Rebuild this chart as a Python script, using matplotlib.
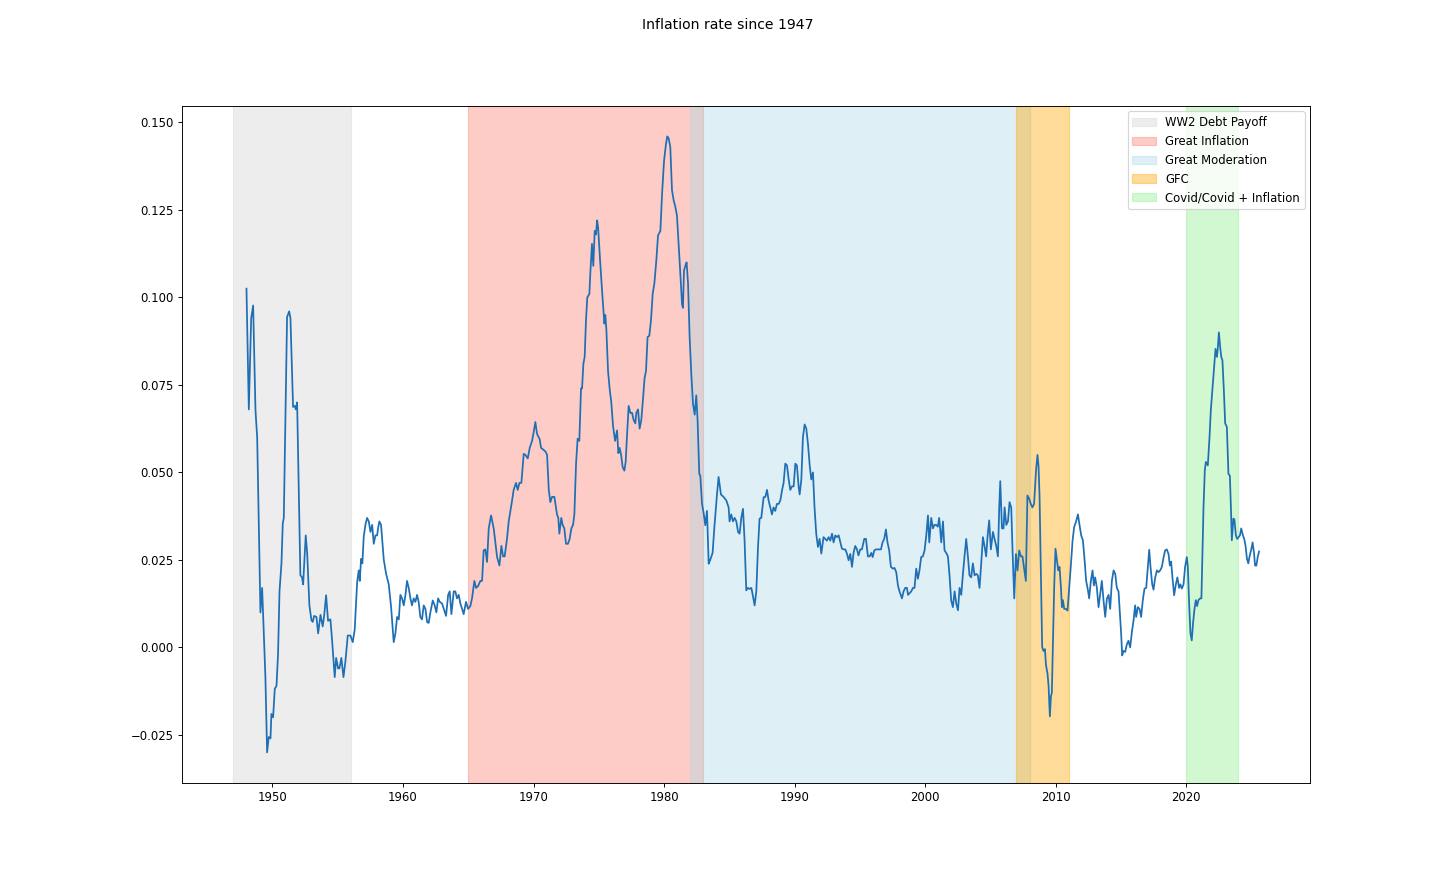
import matplotlib
matplotlib.use("Agg")
import matplotlib.pyplot as plt

# 📝 annual inflation rate (year-over-year)
years = [
    1948.01, 1948.19, 1948.37, 1948.52, 1948.70, 1948.83, 1949.08, 1949.21, 1949.46, 1949.59,
    1949.72, 1949.85, 1949.92, 1950.05, 1950.18, 1950.31, 1950.43, 1950.54, 1950.69, 1950.79,
    1950.87, 1951.00, 1951.12, 1951.28, 1951.38, 1951.58, 1951.71, 1951.79, 1951.89, 1952.14,
    1952.27, 1952.35, 1952.55, 1952.66, 1952.83, 1952.99, 1953.09, 1953.19, 1953.37, 1953.50,
    1953.68, 1953.85, 1953.96, 1954.11, 1954.26, 1954.44, 1954.57, 1954.77, 1954.88, 1955.03,
    1955.13, 1955.28, 1955.44, 1955.59, 1955.77, 1955.97, 1956.15, 1956.30, 1956.49, 1956.61,
    1956.69, 1956.79, 1956.89, 1956.99, 1957.12, 1957.25, 1957.38, 1957.51, 1957.64, 1957.76,
    1957.89, 1958.02, 1958.09, 1958.19, 1958.32, 1958.53, 1958.71, 1958.91, 1959.09, 1959.29,
    1959.42, 1959.55, 1959.68, 1959.80, 1959.93, 1960.06, 1960.19, 1960.31, 1960.44, 1960.57,
    1960.69, 1960.82, 1960.95, 1961.08, 1961.20, 1961.33, 1961.46, 1961.59, 1961.72, 1961.85,
    1961.97, 1962.10, 1962.28, 1962.43, 1962.56, 1962.69, 1962.82, 1963.00, 1963.13, 1963.30,
    1963.46, 1963.58, 1963.71, 1963.89, 1964.01, 1964.14, 1964.27, 1964.40, 1964.53, 1964.65,
    1964.83, 1964.99, 1965.16, 1965.29, 1965.47, 1965.60, 1965.75, 1965.93, 1966.06, 1966.18,
    1966.31, 1966.44, 1966.57, 1966.75, 1966.95, 1967.08, 1967.21, 1967.39, 1967.54, 1967.67,
    1967.79, 1967.97, 1968.10, 1968.23, 1968.36, 1968.48, 1968.66, 1968.79, 1968.92, 1969.07,
    1969.25, 1969.38, 1969.56, 1969.71, 1969.89, 1969.99, 1970.14, 1970.27, 1970.47, 1970.58,
    1970.91, 1971.04, 1971.17, 1971.29, 1971.42, 1971.60, 1971.80, 1971.90, 1971.98, 1972.13,
    1972.23, 1972.36, 1972.49, 1972.64, 1972.77, 1972.90, 1973.03, 1973.13, 1973.26, 1973.38,
    1973.51, 1973.64, 1973.72, 1973.82, 1973.92, 1974.02, 1974.12, 1974.28, 1974.35, 1974.48,
    1974.58, 1974.69, 1974.79, 1974.87, 1974.95, 1975.10, 1975.25, 1975.43, 1975.50, 1975.58,
    1975.71, 1975.83, 1975.96, 1976.09, 1976.25, 1976.40, 1976.50, 1976.60, 1976.71, 1976.83,
    1976.96, 1977.06, 1977.17, 1977.29, 1977.42, 1977.55, 1977.67, 1977.80, 1977.88, 1978.01,
    1978.13, 1978.26, 1978.39, 1978.51, 1978.62, 1978.74, 1978.87, 1979.00, 1979.13, 1979.26,
    1979.41, 1979.54, 1979.72, 1979.85, 1980.00, 1980.15, 1980.25, 1980.35, 1980.48, 1980.61,
    1980.74, 1980.86, 1980.99, 1981.12, 1981.25, 1981.38, 1981.45, 1981.53, 1981.63, 1981.73,
    1981.84, 1981.96, 1982.09, 1982.22, 1982.35, 1982.47, 1982.57, 1982.70, 1982.78, 1982.91,
    1983.03, 1983.16, 1983.29, 1983.42, 1983.54, 1983.72, 1983.85, 1984.06, 1984.18, 1984.36,
    1984.56, 1984.77, 1984.95, 1985.02, 1985.15, 1985.28, 1985.41, 1985.54, 1985.67, 1985.79,
    1985.92, 1986.05, 1986.17, 1986.30, 1986.43, 1986.56, 1986.69, 1986.82, 1986.94, 1987.07,
    1987.20, 1987.32, 1987.45, 1987.63, 1987.76, 1987.89, 1988.01, 1988.14, 1988.27, 1988.39,
    1988.52, 1988.65, 1988.78, 1988.91, 1989.04, 1989.16, 1989.29, 1989.42, 1989.55, 1989.67,
    1989.80, 1989.93, 1990.06, 1990.18, 1990.31, 1990.39, 1990.52, 1990.64, 1990.77, 1990.90,
    1991.03, 1991.16, 1991.28, 1991.41, 1991.53, 1991.66, 1991.79, 1991.92, 1992.05, 1992.22,
    1992.35, 1992.48, 1992.61, 1992.74, 1992.87, 1992.99, 1993.12, 1993.25, 1993.38, 1993.51,
    1993.63, 1993.76, 1993.89, 1994.02, 1994.14, 1994.27, 1994.40, 1994.52, 1994.65, 1994.78,
    1994.90, 1995.03, 1995.16, 1995.34, 1995.47, 1995.62, 1995.75, 1995.88, 1995.98, 1996.11,
    1996.24, 1996.37, 1996.49, 1996.62, 1996.74, 1996.87, 1997.00, 1997.12, 1997.25, 1997.38,
    1997.54, 1997.66, 1997.79, 1997.92, 1998.04, 1998.23, 1998.35, 1998.48, 1998.61, 1998.69,
    1998.81, 1998.94, 1999.07, 1999.19, 1999.32, 1999.45, 1999.57, 1999.70, 1999.83, 1999.96,
    2000.09, 2000.22, 2000.32, 2000.47, 2000.60, 2000.72, 2000.85, 2000.98, 2001.08, 2001.24,
    2001.37, 2001.49, 2001.62, 2001.75, 2001.87, 2002.00, 2002.13, 2002.26, 2002.39, 2002.52,
    2002.64, 2002.77, 2002.90, 2003.02, 2003.15, 2003.28, 2003.40, 2003.53, 2003.66, 2003.79,
    2003.92, 2004.04, 2004.17, 2004.30, 2004.43, 2004.55, 2004.68, 2004.78, 2004.91, 2005.04,
    2005.20, 2005.32, 2005.45, 2005.58, 2005.68, 2005.76, 2005.89, 2006.01, 2006.09, 2006.22,
    2006.35, 2006.47, 2006.60, 2006.70, 2006.83, 2006.96, 2007.08, 2007.21, 2007.34, 2007.46,
    2007.59, 2007.72, 2007.84, 2007.97, 2008.10, 2008.22, 2008.35, 2008.50, 2008.61, 2008.69,
    2008.77, 2008.87, 2008.97, 2009.07, 2009.18, 2009.26, 2009.38, 2009.46, 2009.56, 2009.64,
    2009.71, 2009.79, 2009.89, 2009.99, 2010.10, 2010.20, 2010.30, 2010.41, 2010.48, 2010.56,
    2010.66, 2010.79, 2010.91, 2011.04, 2011.17, 2011.30, 2011.42, 2011.57, 2011.71, 2011.83,
    2011.96, 2012.09, 2012.21, 2012.34, 2012.47, 2012.57, 2012.70, 2012.83, 2012.93, 2013.03,
    2013.16, 2013.29, 2013.41, 2013.54, 2013.67, 2013.80, 2013.93, 2014.06, 2014.18, 2014.31,
    2014.44, 2014.57, 2014.69, 2014.82, 2014.94, 2015.02, 2015.10, 2015.20, 2015.33, 2015.46,
    2015.58, 2015.71, 2015.84, 2015.97, 2016.09, 2016.17, 2016.30, 2016.43, 2016.55, 2016.68,
    2016.81, 2016.94, 2017.07, 2017.17, 2017.27, 2017.40, 2017.50, 2017.63, 2017.76, 2017.88,
    2018.01, 2018.14, 2018.26, 2018.39, 2018.52, 2018.65, 2018.75, 2018.85, 2018.95, 2019.08,
    2019.21, 2019.33, 2019.46, 2019.56, 2019.67, 2019.80, 2019.92, 2020.05, 2020.13, 2020.23,
    2020.33, 2020.43, 2020.53, 2020.64, 2020.74, 2020.84, 2020.94, 2021.07, 2021.17, 2021.25,
    2021.33, 2021.43, 2021.51, 2021.66, 2021.79, 2021.89, 2022.02, 2022.15, 2022.25, 2022.36,
    2022.43, 2022.51, 2022.61, 2022.69, 2022.78, 2022.89, 2022.99, 2023.12, 2023.24, 2023.35,
    2023.43, 2023.50, 2023.62, 2023.70, 2023.81, 2023.91, 2024.01, 2024.12, 2024.22, 2024.35,
    2024.45, 2024.55, 2024.66, 2024.76, 2024.86, 2024.99, 2025.09, 2025.20, 2025.28, 2025.38,
    2025.49, 2025.59,
]

inflation = [
    0.1025, 0.0680, 0.0940, 0.0977, 0.0677, 0.0600, 0.0100, 0.0170, -0.0085, -0.0300,
    -0.0256, -0.0260, -0.0190, -0.0200, -0.0118, -0.0110, -0.0018, 0.0160, 0.0240, 0.0354,
    0.0370, 0.0677, 0.0944, 0.0960, 0.0940, 0.0687, 0.0690, 0.0680, 0.0700, 0.0206,
    0.0200, 0.0180, 0.0320, 0.0270, 0.0120, 0.0077, 0.0073, 0.0090, 0.0087, 0.0040,
    0.0093, 0.0060, 0.0090, 0.0149, 0.0076, 0.0080, 0.0020, -0.0085, -0.0030, -0.0060,
    -0.0060, -0.0030, -0.0085, -0.0040, 0.0034, 0.0034, 0.0015, 0.0050, 0.0187, 0.0220,
    0.0190, 0.0253, 0.0240, 0.0315, 0.0350, 0.0370, 0.0360, 0.0330, 0.0350, 0.0296,
    0.0320, 0.0320, 0.0340, 0.0360, 0.0350, 0.0250, 0.0210, 0.0180, 0.0115, 0.0015,
    0.0040, 0.0087, 0.0080, 0.0150, 0.0140, 0.0120, 0.0150, 0.0190, 0.0170, 0.0140,
    0.0120, 0.0140, 0.0130, 0.0150, 0.0130, 0.0087, 0.0080, 0.0120, 0.0110, 0.0072,
    0.0070, 0.0100, 0.0134, 0.0120, 0.0100, 0.0140, 0.0130, 0.0125, 0.0110, 0.0090,
    0.0150, 0.0160, 0.0095, 0.0160, 0.0160, 0.0140, 0.0150, 0.0125, 0.0110, 0.0095,
    0.0130, 0.0110, 0.0118, 0.0140, 0.0190, 0.0170, 0.0175, 0.0190, 0.0190, 0.0277,
    0.0280, 0.0244, 0.0340, 0.0377, 0.0340, 0.0300, 0.0258, 0.0234, 0.0290, 0.0260,
    0.0260, 0.0310, 0.0360, 0.0390, 0.0420, 0.0450, 0.0470, 0.0450, 0.0470, 0.0470,
    0.0553, 0.0550, 0.0540, 0.0570, 0.0590, 0.0610, 0.0644, 0.0610, 0.0595, 0.0570,
    0.0560, 0.0550, 0.0450, 0.0415, 0.0430, 0.0430, 0.0380, 0.0370, 0.0325, 0.0370,
    0.0350, 0.0340, 0.0296, 0.0296, 0.0310, 0.0340, 0.0350, 0.0380, 0.0525, 0.0596,
    0.0590, 0.0740, 0.0740, 0.0810, 0.0830, 0.0934, 0.1000, 0.1010, 0.1067, 0.1153,
    0.1090, 0.1190, 0.1180, 0.1220, 0.1200, 0.1106, 0.1020, 0.0925, 0.0950, 0.0910,
    0.0790, 0.0740, 0.0700, 0.0634, 0.0590, 0.0620, 0.0555, 0.0570, 0.0550, 0.0515,
    0.0505, 0.0530, 0.0610, 0.0690, 0.0670, 0.0670, 0.0650, 0.0640, 0.0670, 0.0680,
    0.0625, 0.0650, 0.0710, 0.0770, 0.0790, 0.0887, 0.0890, 0.0934, 0.1010, 0.1040,
    0.1106, 0.1177, 0.1190, 0.1296, 0.1390, 0.1439, 0.1460, 0.1455, 0.1430, 0.1306,
    0.1277, 0.1260, 0.1234, 0.1153, 0.1067, 0.0980, 0.0970, 0.1077, 0.1090, 0.1100,
    0.1040, 0.0887, 0.0780, 0.0696, 0.0665, 0.0720, 0.0650, 0.0496, 0.0490, 0.0410,
    0.0385, 0.0349, 0.0390, 0.0239, 0.0250, 0.0270, 0.0340, 0.0439, 0.0487, 0.0437,
    0.0430, 0.0420, 0.0400, 0.0360, 0.0380, 0.0360, 0.0370, 0.0360, 0.0330, 0.0325,
    0.0370, 0.0396, 0.0306, 0.0163, 0.0170, 0.0167, 0.0170, 0.0145, 0.0120, 0.0160,
    0.0287, 0.0368, 0.0370, 0.0429, 0.0430, 0.0450, 0.0420, 0.0400, 0.0380, 0.0400,
    0.0390, 0.0410, 0.0410, 0.0420, 0.0449, 0.0470, 0.0525, 0.0520, 0.0480, 0.0450,
    0.0460, 0.0460, 0.0525, 0.0520, 0.0460, 0.0437, 0.0480, 0.0600, 0.0637, 0.0625,
    0.0580, 0.0520, 0.0480, 0.0500, 0.0400, 0.0325, 0.0287, 0.0310, 0.0268, 0.0315,
    0.0310, 0.0305, 0.0315, 0.0305, 0.0325, 0.0300, 0.0320, 0.0315, 0.0320, 0.0300,
    0.0282, 0.0280, 0.0280, 0.0267, 0.0249, 0.0267, 0.0230, 0.0270, 0.0290, 0.0280,
    0.0263, 0.0280, 0.0280, 0.0310, 0.0310, 0.0260, 0.0260, 0.0270, 0.0258, 0.0277,
    0.0280, 0.0280, 0.0280, 0.0280, 0.0300, 0.0310, 0.0337, 0.0300, 0.0277, 0.0230,
    0.0225, 0.0227, 0.0215, 0.0177, 0.0160, 0.0140, 0.0160, 0.0170, 0.0170, 0.0150,
    0.0155, 0.0160, 0.0170, 0.0170, 0.0225, 0.0196, 0.0220, 0.0258, 0.0260, 0.0277,
    0.0320, 0.0377, 0.0300, 0.0370, 0.0340, 0.0350, 0.0350, 0.0345, 0.0370, 0.0300,
    0.0360, 0.0277, 0.0270, 0.0260, 0.0206, 0.0134, 0.0115, 0.0160, 0.0125, 0.0106,
    0.0170, 0.0150, 0.0210, 0.0260, 0.0310, 0.0260, 0.0206, 0.0200, 0.0240, 0.0206,
    0.0210, 0.0206, 0.0170, 0.0240, 0.0315, 0.0290, 0.0260, 0.0315, 0.0363, 0.0280,
    0.0330, 0.0310, 0.0290, 0.0260, 0.0400, 0.0475, 0.0340, 0.0340, 0.0400, 0.0350,
    0.0360, 0.0415, 0.0400, 0.0277, 0.0140, 0.0267, 0.0220, 0.0277, 0.0260, 0.0260,
    0.0225, 0.0190, 0.0434, 0.0425, 0.0410, 0.0400, 0.0410, 0.0506, 0.0550, 0.0520,
    0.0430, 0.0210, 0.0001, -0.0010, -0.0005, -0.0050, -0.0075, -0.0110, -0.0197, -0.0140,
    -0.0130, 0.0000, 0.0172, 0.0282, 0.0250, 0.0220, 0.0230, 0.0170, 0.0115, 0.0135,
    0.0110, 0.0110, 0.0105, 0.0170, 0.0235, 0.0306, 0.0344, 0.0360, 0.0380, 0.0350,
    0.0320, 0.0306, 0.0254, 0.0190, 0.0165, 0.0140, 0.0190, 0.0220, 0.0177, 0.0200,
    0.0170, 0.0115, 0.0150, 0.0190, 0.0135, 0.0087, 0.0140, 0.0150, 0.0110, 0.0190,
    0.0220, 0.0210, 0.0170, 0.0160, 0.0090, 0.0040, -0.0023, -0.0010, -0.0013, 0.0009,
    0.0019, 0.0000, 0.0043, 0.0077, 0.0120, 0.0087, 0.0115, 0.0110, 0.0087, 0.0135,
    0.0168, 0.0170, 0.0230, 0.0279, 0.0230, 0.0180, 0.0165, 0.0200, 0.0220, 0.0215,
    0.0220, 0.0230, 0.0255, 0.0277, 0.0280, 0.0267, 0.0234, 0.0245, 0.0200, 0.0149,
    0.0180, 0.0200, 0.0170, 0.0180, 0.0168, 0.0180, 0.0230, 0.0258, 0.0230, 0.0125,
    0.0040, 0.0020, 0.0070, 0.0110, 0.0135, 0.0118, 0.0135, 0.0140, 0.0140, 0.0268,
    0.0400, 0.0506, 0.0530, 0.0520, 0.0600, 0.0677, 0.0740, 0.0800, 0.0853, 0.0830,
    0.0857, 0.0900, 0.0857, 0.0830, 0.0820, 0.0734, 0.0640, 0.0630, 0.0496, 0.0490,
    0.0400, 0.0306, 0.0368, 0.0365, 0.0320, 0.0310, 0.0315, 0.0320, 0.0340, 0.0320,
    0.0310, 0.0290, 0.0253, 0.0240, 0.0260, 0.0280, 0.0300, 0.0270, 0.0234, 0.0234,
    0.0260, 0.0274,
]

# 🎯 historical periods
period_names = ["WW2 Debt Payoff", "Great Inflation", "Great Moderation", "GFC",
                "Covid/Covid + Inflation"]
period_starts = [1947, 1965, 1982, 2007, 2020]
period_ends = [1956, 1983, 2008, 2011, 2024]
period_colors = ["lightgray", "salmon", "lightblue", "orange", "lightgreen"]

DPI = 84


def main():
    fig, ax = plt.subplots(figsize=(1456 / DPI, 880 / DPI), dpi=DPI)

    # 📊 shaded periods
    for name, start, end, color in zip(period_names, period_starts, period_ends, period_colors):
        ax.axvspan(start, end, color=color, alpha=0.4, label=name)

    # 📈 inflation line
    ax.plot(years, inflation, color="#1f6fb4", linewidth=1.5)

    ax.legend(loc="upper right")
    fig.suptitle("Inflation rate since 1947")

    fig.savefig("out.png", dpi=DPI)
    plt.close(fig)


if __name__ == "__main__":
    main()
